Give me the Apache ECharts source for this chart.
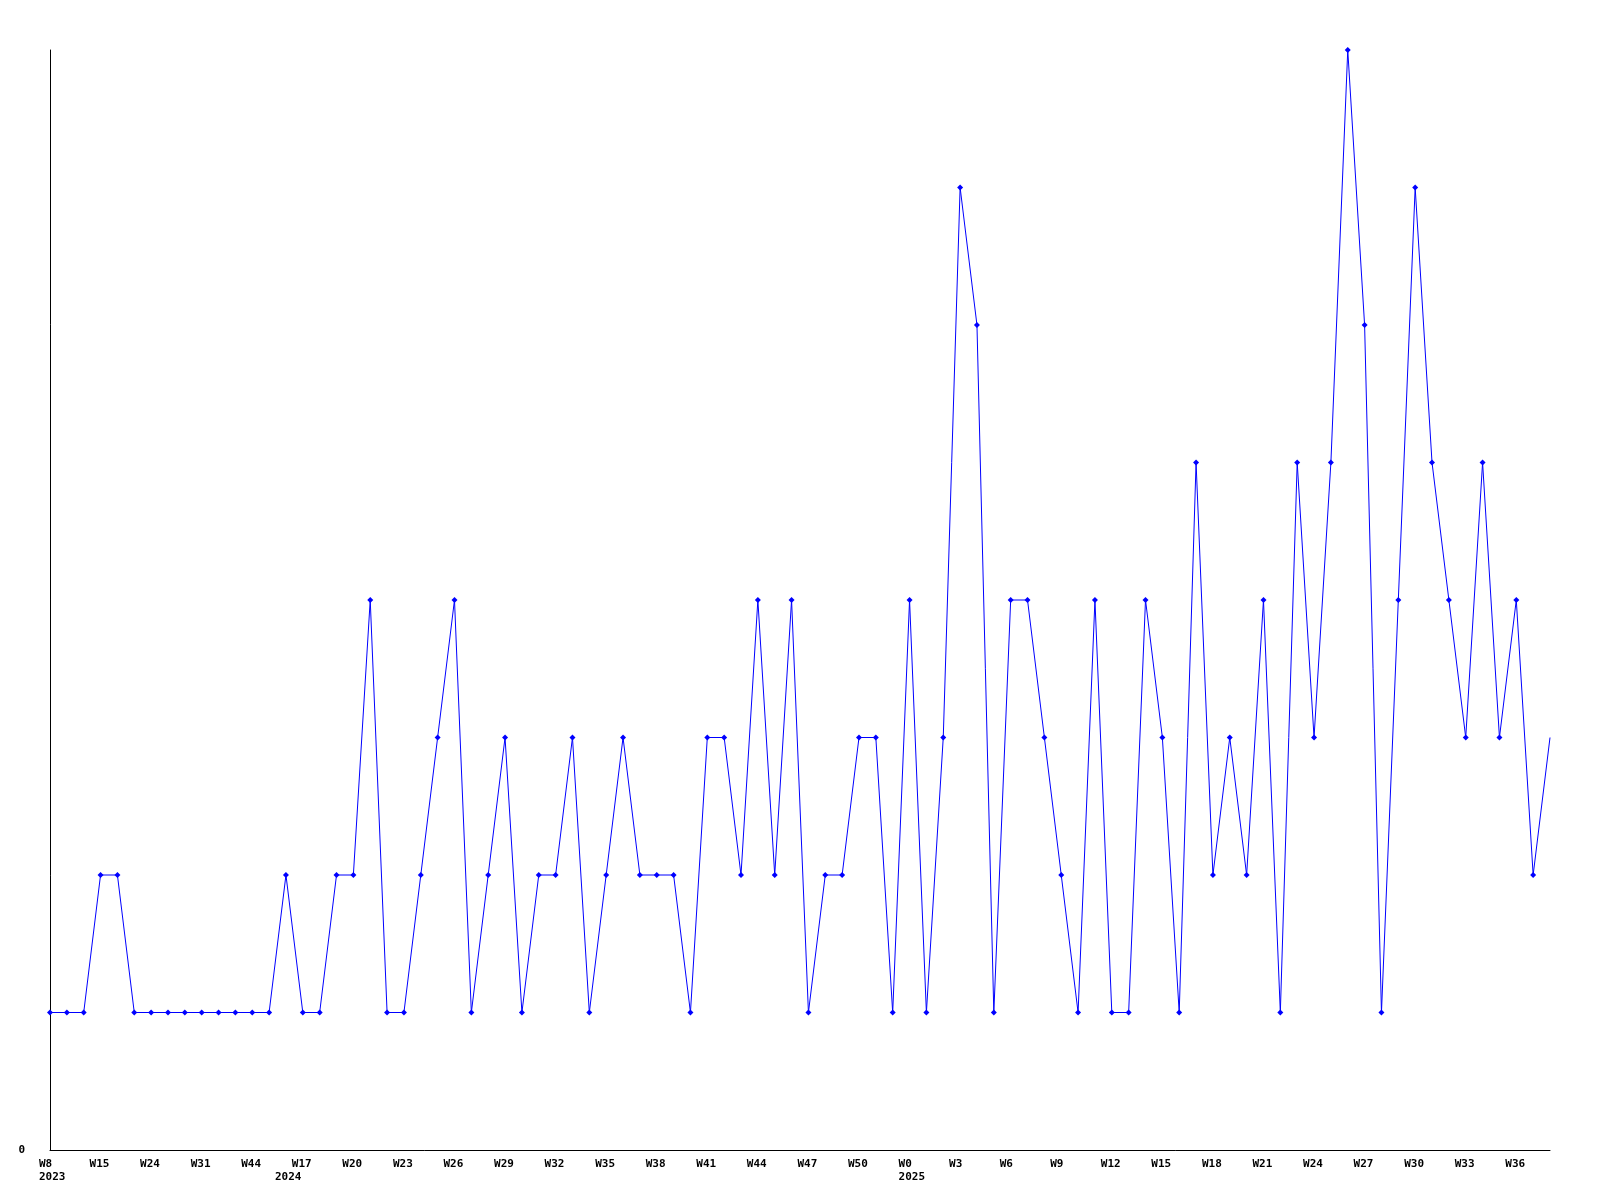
<!DOCTYPE html>
<html>
<head>
<meta charset="utf-8">
<script src="https://cdn.jsdelivr.net/npm/echarts@6/dist/echarts.min.js"></script>
<style>
html,body{margin:0;padding:0;background:#fff;}
#chart{width:1600px;height:1200px;}
</style>
</head>
<body>
<div id="chart"></div>
<script>
// Week categories (year-week); every third one is labelled on the axis
const categories = [
  "2023-W8","2023-W11","2023-W13","2023-W15","2023-W18","2023-W21","2023-W24","2023-W26","2023-W28",
  "2023-W31","2023-W35","2023-W40","2023-W44","2023-W48","2024-W6",
  "2024-W17","2024-W18","2024-W19","2024-W20","2024-W21","2024-W22","2024-W23","2024-W24","2024-W25",
  "2024-W26","2024-W27","2024-W28","2024-W29","2024-W30","2024-W31","2024-W32","2024-W33","2024-W34",
  "2024-W35","2024-W36","2024-W37","2024-W38","2024-W39","2024-W40","2024-W41","2024-W42","2024-W43",
  "2024-W44","2024-W45","2024-W46","2024-W47","2024-W48","2024-W49","2024-W50","2024-W51","2024-W52",
  "2025-W0","2025-W1","2025-W2","2025-W3","2025-W4","2025-W5","2025-W6","2025-W7","2025-W8",
  "2025-W9","2025-W10","2025-W11","2025-W12","2025-W13","2025-W14","2025-W15","2025-W16","2025-W17",
  "2025-W18","2025-W19","2025-W20","2025-W21","2025-W22","2025-W23","2025-W24","2025-W25","2025-W26",
  "2025-W27","2025-W28","2025-W29","2025-W30","2025-W31","2025-W32","2025-W33","2025-W34","2025-W35",
  "2025-W36","2025-W37","2025-W38"
];

// Counts per week
const counts = [
  1,1,1,2,2,1,1,1,1,
  1,1,1,1,1,2,
  1,1,2,2,4,1,1,2,3,
  4,1,2,3,1,2,2,3,1,
  2,3,2,2,2,1,3,3,2,
  4,2,4,1,2,2,3,3,1,
  4,1,3,7,6,1,4,4,3,
  2,1,4,1,1,4,3,1,5,
  2,3,2,4,1,5,3,5,8,
  6,1,4,7,5,4,3,5,3,
  4,2,3
];

// Value axis ticks
const yTicks = { min: 0, max: 8, interval: 8 };

const seriesData = counts.map((v, i) =>
  i === counts.length - 1 ? { value: v, symbol: 'none' } : v
);

const chart = echarts.init(document.getElementById('chart'), null, { renderer: 'canvas' });

const fontFamily = '"DejaVu Sans Mono", "Liberation Mono", monospace';
const richA = {
  a: {
    fontFamily: fontFamily,
    fontWeight: 'bold',
    fontSize: 11,
    color: '#000',
    width: 22,
    align: 'left',
    lineHeight: 13
  }
};

function yearStart(idx) {
  if (idx === 0) return true;
  return categories[idx].split('-')[0] !== categories[idx - 1].split('-')[0];
}

chart.setOption({
  animation: false,
  backgroundColor: '#ffffff',
  grid: { left: 50, right: 50, top: 50, bottom: 50, containLabel: false },
  xAxis: [{
    type: 'category',
    data: categories,
    boundaryGap: false,
    axisLine: { show: true, lineStyle: { color: '#000', width: 1 } },
    axisTick: { show: false },
    splitLine: { show: false },
    axisLabel: {
      interval: 2,
      margin: 8,
      align: 'center',
      formatter: function (val) { return '{a|' + val.split('-')[1] + '}'; },
      rich: richA
    }
  }, {
    type: 'category',
    data: categories,
    position: 'bottom',
    boundaryGap: false,
    axisLine: { show: false },
    axisTick: { show: false },
    splitLine: { show: false },
    axisLabel: {
      interval: function (idx) { return yearStart(idx); },
      margin: 21,
      align: 'center',
      formatter: function (val) { return '{a|' + val.split('-')[0] + '}'; },
      rich: richA
    }
  }],
  yAxis: {
    type: 'value',
    min: yTicks.min,
    max: yTicks.max,
    interval: yTicks.interval,
    axisLine: { show: true, lineStyle: { color: '#000', width: 1 } },
    axisTick: { show: false },
    splitLine: { show: false },
    axisLabel: {
      fontFamily: fontFamily,
      fontWeight: 'bold',
      fontSize: 11,
      color: '#000',
      showMaxLabel: false,
      margin: 25
    }
  },
  series: [{
    type: 'line',
    xAxisIndex: 0,
    data: seriesData,
    symbol: 'diamond',
    symbolSize: 6,
    showAllSymbol: true,
    lineStyle: { color: '#0000ff', width: 1 },
    itemStyle: { color: '#0000ff' },
    emphasis: { disabled: true }
  }]
});
</script>
</body>
</html>
